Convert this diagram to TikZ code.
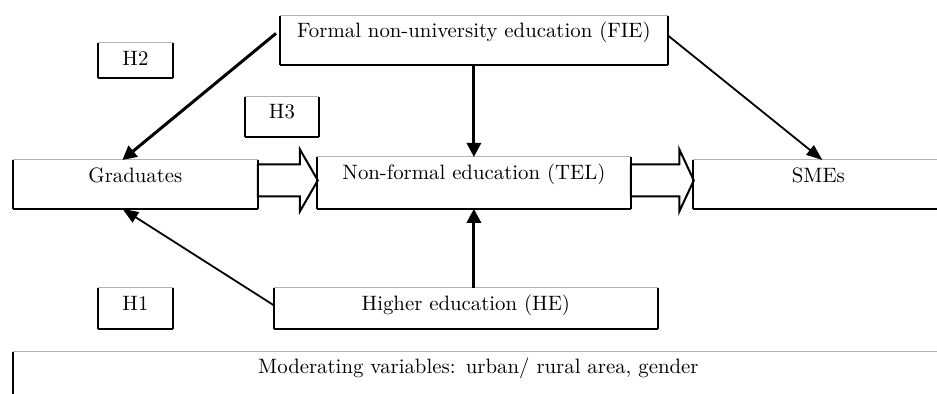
\documentclass[tikz,border=0pt]{standalone}
\usetikzlibrary{arrows.meta,calc,shapes.arrows}

\tikzset{
    topline/.style={draw=gray!60, line width=0.5pt},
    botline/.style={draw=black, line width=0.8pt},
    sideline/.style={draw=black, line width=1.3pt},
    hbox/.style={inner sep=0pt, align=center, anchor=north west,
        font=\fontsize{10.4}{12}\selectfont,
        append after command={
            (\tikzlastnode.north west) edge[topline] (\tikzlastnode.north east)
            (\tikzlastnode.south west) edge[botline] (\tikzlastnode.south east)
            (\tikzlastnode.north west) edge[sideline] (\tikzlastnode.south west)
            (\tikzlastnode.north east) edge[sideline] (\tikzlastnode.south east)}},
    link/.style={-{Triangle[length=7pt,width=7pt]}, line width=1.5pt},
    thinlink/.style={-{Triangle[length=8pt,width=6pt]}, line width=0.9pt},
    fat/.style={single arrow, draw, line width=1pt, inner xsep=0pt, inner ysep=7.5pt,
        minimum width=29.5pt, single arrow head extend=7.5pt,
        single arrow head indent=0pt, outer sep=0pt, anchor=tail}
}

\begin{document}
\begin{tikzpicture}[x=0.5pt, y=-0.5pt]
    \useasboundingbox (0,0) rectangle (937,394);

    \node [hbox, text width=193.5pt, text height=10.5pt, text depth=13.5pt] (fie) at (280,16) {Formal non-university education (FIE)};
    \node [hbox, text width=37pt, text height=11pt, text depth=6pt] (h2) at (98,43) {H2};
    \node [hbox, text width=36.5pt, text height=10.5pt, text depth=9pt] (h3) at (245,97) {H3};
    \node [hbox, text width=122pt, text height=11pt, text depth=13pt] (grad) at (13,160) {Graduates};
    \node [hbox, text width=156.5pt, text height=11pt, text depth=14.5pt] (tel) at (317,157) {Non-formal education (TEL)};
    \node [hbox, text width=125pt, text height=11pt, text depth=13pt] (smes) at (693,160) {SMEs};
    \node [hbox, text width=37pt, text height=11pt, text depth=9pt] (h1) at (98,288) {H1};
    \node [hbox, text width=191.5pt, text height=11pt, text depth=9pt] (he) at (274,288) {Higher education (HE)};
    \node [hbox, text width=465pt, text height=10.5pt, text depth=23.5pt] (mod) at (13,352) {Moderating variables: urban/ rural area, gender};

    \node [fat, minimum height=30pt, single arrow tip angle=120] (gradtel) at ([yshift=2pt]grad.east) {};
    \node [fat, minimum height=31.5pt, single arrow tip angle=130] (telsmes) at ([yshift=1.25pt]tel.east) {};

    \draw [link] ([xshift=-2pt,yshift=3.5pt]fie.west) -- ([xshift=-6.5pt]grad.north);
    \draw [link] (fie.south) -- (tel.north);
    \draw [thinlink] ([yshift=2.5pt]fie.east) -- ([xshift=2pt]smes.north);
    \draw [thinlink] ([yshift=1.5pt]he.west) -- ([xshift=-6.5pt]grad.south);
    \draw [link] (tel.south |- he.north) -- (tel.south);
\end{tikzpicture}
\end{document}
